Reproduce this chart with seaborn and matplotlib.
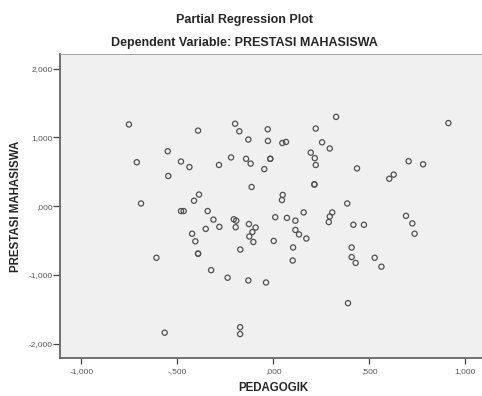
import pandas as pd
import seaborn as sns
import matplotlib.pyplot as plt
from matplotlib.ticker import FixedLocator, FixedFormatter

# partial residuals
pedagogik = [
    -0.752, -0.392, -0.550, -0.711, -0.481, -0.437, -0.547, -0.199, -0.177, -0.029,
    0.327, -0.130, -0.028, 0.047, 0.066, 0.221, 0.254, 0.294, 0.195, 0.216,
    0.221, 0.214, 0.214, -0.220, -0.283, -0.142, -0.118, -0.016, -0.016, -0.047,
    -0.113, 0.049, 0.045, 0.912, 0.436, 0.705, 0.780, 0.627, 0.604, -0.689,
    -0.387, -0.413, -0.481, -0.467, -0.342, -0.352, -0.423, -0.406, -0.392, -0.392,
    -0.609, 0.385, -0.312, -0.281, -0.206, -0.193, -0.196, -0.127, -0.092, -0.109,
    -0.125, -0.104, -0.172, 0.010, 0.071, 0.115, 0.158, 0.115, 0.134, 0.172,
    0.002, 0.103, 0.101, 0.307, 0.294, 0.289, 0.417, 0.472, 0.691, 0.724,
    0.736, 0.408, 0.408, 0.429, 0.528, 0.563, 0.389, -0.324, -0.238, -0.130,
    -0.038, -0.566, -0.173, -0.173,
]
prestasi = [
    1.19, 1.10, 0.80, 0.64, 0.65, 0.57, 0.44, 1.20, 1.09, 1.12,
    1.30, 0.97, 0.95, 0.92, 0.935, 1.13, 0.93, 0.84, 0.78, 0.70,
    0.60, 0.315, 0.32, 0.71, 0.60, 0.69, 0.62, 0.69, 0.69, 0.54,
    0.28, 0.165, 0.09, 1.21, 0.55, 0.655, 0.61, 0.46, 0.40, 0.04,
    0.17, 0.08, -0.07, -0.07, -0.07, -0.33, -0.40, -0.51, -0.69, -0.69,
    -0.75, 0.04, -0.195, -0.30, -0.19, -0.21, -0.305, -0.26, -0.31, -0.375,
    -0.44, -0.52, -0.63, -0.16, -0.17, -0.21, -0.09, -0.345, -0.41, -0.47,
    -0.505, -0.60, -0.79, -0.09, -0.15, -0.23, -0.27, -0.27, -0.14, -0.25,
    -0.40, -0.60, -0.74, -0.825, -0.75, -0.88, -1.41, -0.93, -1.04, -1.08,
    -1.11, -1.84, -1.76, -1.86,
]

x_ticks = [-1.0, -0.5, 0.0, 0.5, 1.0]
x_labels = ['-1,000', '-,500', ',000', ',500', '1,000']
y_ticks = [-2.0, -1.0, 0.0, 1.0, 2.0]
y_labels = ['-2,000', '-1,000', ',000', '1,000', '2,000']

df = pd.DataFrame({'PEDAGOGIK': pedagogik, 'PRESTASI MAHASISWA': prestasi})

sns.set_style('white')
plt.rcParams['font.family'] = ['Liberation Sans', 'DejaVu Sans']

fig = plt.figure(figsize=(4.82, 3.96), dpi=100)
ax = fig.add_axes([0.1245, 0.096, 0.8755, 0.768])
ax.set_facecolor('#f0f0f0')

sns.scatterplot(data=df, x='PEDAGOGIK', y='PRESTASI MAHASISWA', ax=ax,
                marker='o', s=14, facecolor='none', edgecolor='#505050',
                linewidth=0.9)

ax.set_xlim(-1.111, 1.087)
ax.set_ylim(-2.208, 2.217)
ax.xaxis.set_major_locator(FixedLocator(x_ticks))
ax.xaxis.set_major_formatter(FixedFormatter(x_labels))
ax.yaxis.set_major_locator(FixedLocator(y_ticks))
ax.yaxis.set_major_formatter(FixedFormatter(y_labels))
ax.tick_params(axis='y', direction='out', length=5, width=0.9,
               color='#444444', labelsize=6, labelcolor='#555555', pad=0.5,
               left=True)
ax.tick_params(axis='x', direction='out', length=4, width=0.9,
               color='#444444', labelsize=6, labelcolor='#555555', pad=3,
               bottom=True)

for side in ['left', 'bottom']:
    ax.spines[side].set_color('#666666')
    ax.spines[side].set_linewidth(1.3)
ax.spines['top'].set_color('#999999')
ax.spines['top'].set_linewidth(0.6)
ax.spines['right'].set_visible(False)

ax.set_xlabel('PEDAGOGIK', fontsize=8.3, fontweight='bold', va='center')
ax.set_ylabel('PRESTASI MAHASISWA', fontsize=8.3, fontweight='bold', va='center')
ax.xaxis.set_label_coords(0.505, -0.099)
ax.yaxis.set_label_coords(-0.105, 0.5)

fig.text(0.508, 0.949, 'Partial Regression Plot', ha='center', va='center',
         fontsize=9, fontweight='bold')
fig.text(0.508, 0.891, 'Dependent Variable: PRESTASI MAHASISWA', ha='center',
         va='center', fontsize=9, fontweight='bold')

fig.savefig('out.png', dpi=100)
